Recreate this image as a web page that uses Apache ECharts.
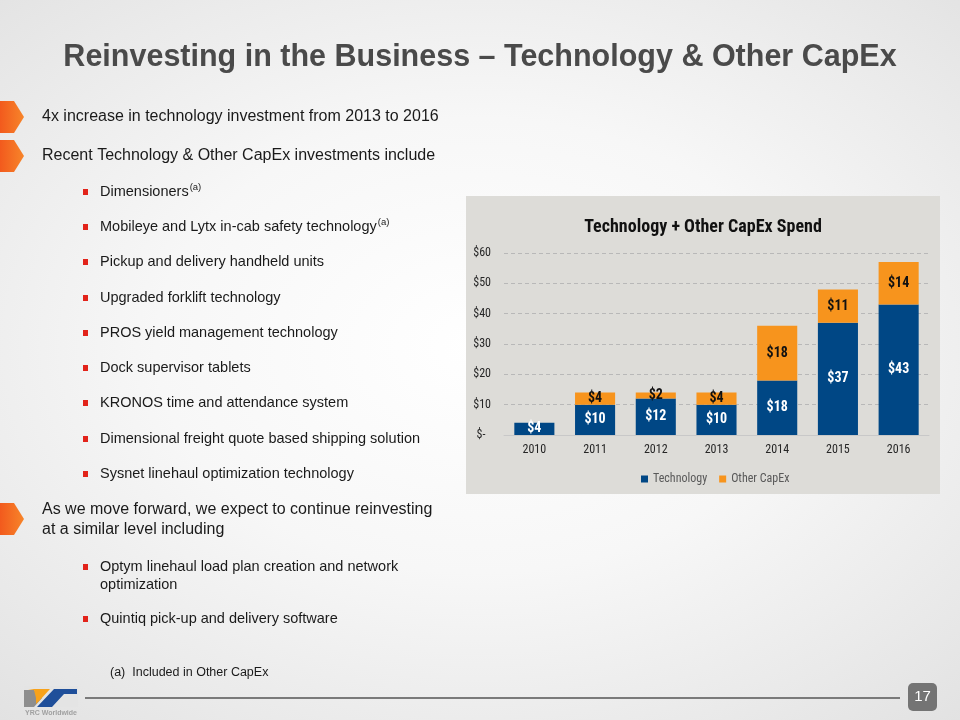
<!DOCTYPE html>
<html><head><meta charset="utf-8">
<script src="https://cdn.jsdelivr.net/npm/echarts@6/dist/echarts.min.js"></script>
<style>
html,body{margin:0;padding:0;}
#c{width:960px;height:720px;background:radial-gradient(ellipse 75% 70% at 50% 48%, #ffffff 0%, #f7f7f7 45%, #e2e2e2 100%);}
</style></head><body>
<div id="c"></div>
<script>
const years = ['2010','2011','2012','2013','2014','2015','2016'];
const technology = [4,10,12,10,18,37,43];
const otherCapex = [0,4,2,4,18,11,14];
const yTicks = {min:0, max:60, interval:10};
const slideTitle = 'Reinvesting in the Business \u2013 Technology & Other CapEx';
const chartTitle = 'Technology + Other CapEx Spend';
const mainPoints = [
  {text:'4x increase in technology investment from 2013 to 2016', y:117},
  {text:'Recent Technology & Other CapEx investments include', y:156},
  {text:'As we move forward, we expect to continue reinvesting\nat a similar level including', y:520}
];
const subPoints = [
  {text:'Dimensioners', sup:'(a)', y:192},
  {text:'Mobileye and Lytx in-cab safety technology', sup:'(a)', y:227},
  {text:'Pickup and delivery handheld units', y:262},
  {text:'Upgraded forklift technology', y:298},
  {text:'PROS yield management technology', y:333},
  {text:'Dock supervisor tablets', y:368},
  {text:'KRONOS time and attendance system', y:403},
  {text:'Dimensional freight quote based shipping solution', y:439},
  {text:'Sysnet linehaul optimization technology', y:474},
  {text:'Optym linehaul load plan creation and network\noptimization', y:576, by:567},
  {text:'Quintiq pick-up and delivery software', y:619}
];
const footnote = '(a)  Included in Other CapEx';
const pageNum = '17';

const narrow = "'Roboto Condensed','Liberation Sans Narrow',sans-serif";
const sans = "'Liberation Sans',Arial,sans-serif";

const chart = echarts.init(document.getElementById('c'));
const g = [];
// chart panel
g.push({type:'rect', shape:{x:466,y:196,width:474,height:298}, style:{fill:'#dddcd8'}, z:-10});
// slide title
g.push({type:'text', x:480, y:58, style:{text:slideTitle, font:"bold 30.5px "+sans, fill:'#4a4a4a', textAlign:'center', textVerticalAlign:'middle'}});
// chevrons + main points
function chevron(cy){
  return {type:'polygon', shape:{points:[[0,cy-16],[14,cy-16],[24,cy],[14,cy+16],[0,cy+16]]},
    style:{fill:new echarts.graphic.LinearGradient(0,0,1,0,[{offset:0,color:'#f25a1d'},{offset:1,color:'#f7852a'}])}};
}
mainPoints.forEach(p=>{
  g.push(chevron(p.y===520?519:p.y));
  g.push({type:'text', x:42, y:p.y, style:{text:p.text, font:"16px "+sans, fill:'#1a1a1a', textVerticalAlign:'middle', lineHeight:20}});
});
subPoints.forEach(p=>{
  const by = p.by||p.y;
  g.push({type:'rect', shape:{x:83,y:by-3,width:5,height:6}, style:{fill:'#e2231a'}});
  g.push({type:'text', x:100, y:p.y, style:{text:p.text, font:"14.5px "+sans, fill:'#1a1a1a', textVerticalAlign:'middle', lineHeight:18}});
  if(p.sup){
    const w = echarts.format.getTextRect ? echarts.format.getTextRect(p.text, "14.5px "+sans).width : 0;
    g.push({type:'text', x:100+w+1, y:p.y-5, style:{text:p.sup, font:"9.5px "+sans, fill:'#1a1a1a', textVerticalAlign:'middle'}});
  }
});
g.push({type:'text', x:110, y:673, style:{text:footnote, font:"12.5px "+sans, fill:'#1a1a1a', textVerticalAlign:'middle'}});
// bottom rule
g.push({type:'line', shape:{x1:85,y1:698,x2:900,y2:698}, style:{stroke:'#7a7a7a', lineWidth:2}});
// page number
g.push({type:'rect', shape:{x:908,y:683,width:29,height:28,r:5}, style:{fill:'#747474'}});
g.push({type:'text', x:922.5, y:697, style:{text:pageNum, font:"15px "+sans, fill:'#ffffff', textAlign:'center', textVerticalAlign:'middle'}});
// logo
g.push({type:'rect', shape:{x:24,y:686,width:54,height:21}, style:{fill:'#e4e4e4'}});
g.push({type:'polygon', shape:{points:[[24,690],[34,690],[42,698],[34,707],[24,707]]}, style:{fill:'#8e8e8e'}});
g.push({type:'polygon', shape:{points:[[28,689],[50,689],[40,700],[36,704],[36,698],[34,690]]}, style:{fill:'#f7a21b'}});
g.push({type:'polygon', shape:{points:[[37,707],[54,689],[77,689],[77,694],[64,694],[52,707]]}, style:{fill:'#1f4f9a'}});
g.push({type:'text', x:25, y:713, style:{text:'YRC Worldwide', font:"bold 7px "+sans, fill:'#a0a0a0', textVerticalAlign:'middle'}});
// chart title
g.push({type:'text', x:703, y:227, style:{text:chartTitle, font:"bold 18px "+narrow, fill:'#111111', textAlign:'center', textVerticalAlign:'middle'}});

chart.setOption({
  animation:false,
  graphic:g,
  grid:{left:504, right:31, top:253, bottom:285},
  legend:{top:468, left:636, itemWidth:7, itemHeight:7, itemGap:12, icon:'rect',
    textStyle:{fontFamily:narrow, fontSize:12, color:'#595959'}, data:['Technology','Other CapEx']},
  xAxis:{type:'category', data:years, axisTick:{show:false}, axisLine:{lineStyle:{color:'#c8c8c8'}},
    axisLabel:{fontFamily:narrow, fontSize:12, color:'#262626', margin:9}},
  yAxis:{type:'value', min:yTicks.min, max:yTicks.max, interval:yTicks.interval,
    axisLabel:{fontFamily:narrow, fontSize:12, color:'#262626', margin:13, formatter:v=> v===0?'$-  ':'$'+v},
    splitLine:{lineStyle:{color:'#b8b8b8', type:[4,3]}}},
  series:[
    {name:'Technology', type:'bar', stack:'t', data:technology, barCategoryGap:'34%', itemStyle:{color:'#004785'},
      label:{show:true, position:'inside', formatter:p=>p.value?'$'+p.value:'', color:'#ffffff', fontFamily:narrow, fontWeight:'bold', fontSize:14}},
    {name:'Other CapEx', type:'bar', stack:'t', data:otherCapex, itemStyle:{color:'#f7941d'},
      label:{show:true, position:'inside', formatter:p=>p.value?'$'+p.value:'', color:'#111111', fontFamily:narrow, fontWeight:'bold', fontSize:14}}
  ]
});
</script></body></html>
